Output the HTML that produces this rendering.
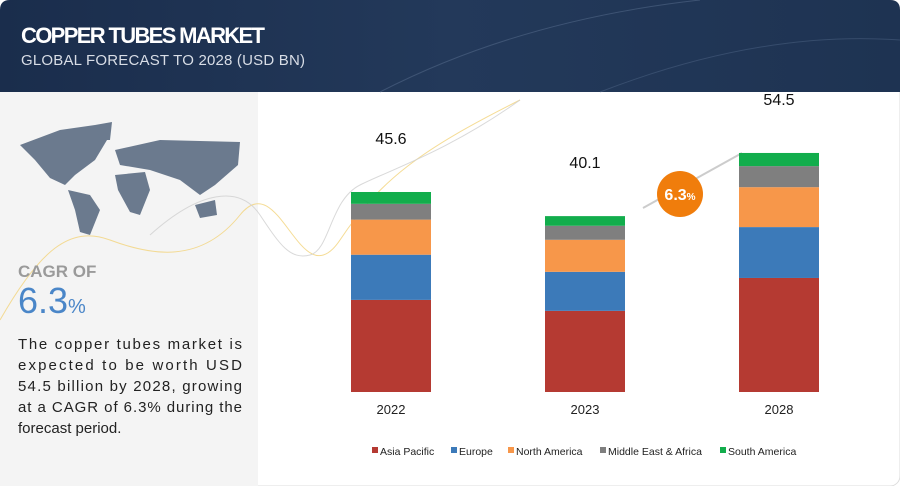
<!DOCTYPE html>
<html><head><meta charset="utf-8"><style>
body{margin:0;width:900px;height:486px;overflow:hidden;background:#fff;font-family:"Liberation Sans",sans-serif;}
#wrap{position:relative;width:900px;height:486px;}
</style></head><body>
<div id="wrap">
<svg width="900" height="486" viewBox="0 0 900 486">
<defs><linearGradient id="hg" x1="0" x2="1" y1="0" y2="0"><stop offset="0" stop-color="#1a2d4c"/><stop offset="0.5" stop-color="#23395a"/><stop offset="1" stop-color="#1e3352"/></linearGradient></defs>
<rect x="0" y="0" width="900" height="486" rx="10" fill="#fff" stroke="#ddd"/>
<path d="M10 0H890Q900 0 900 10V92H0V10Q0 0 10 0Z" fill="url(#hg)"/>
<path d="M380 92 Q520 20 700 0" stroke="#5a7090" stroke-width="1" fill="none" opacity="0.5"/>
<path d="M600 92 Q760 30 900 40" stroke="#5a7090" stroke-width="1" fill="none" opacity="0.4"/>
<text x="21" y="43" font-size="22" font-weight="bold" fill="#fff" textLength="244">COPPER TUBES MARKET</text>
<text x="21" y="65" font-size="15" fill="#d8dde6" textLength="284">GLOBAL FORECAST TO 2028 (USD BN)</text>
<rect x="0" y="92" width="258" height="394" fill="#f4f4f4"/>
<g fill="#6b7a8e">
<path d="M20 145 L60 130 L95 125 L110 135 L95 160 L75 175 L65 185 L50 178 L35 160Z"/>
<path d="M95 125 L112 122 L110 140 L100 140Z"/>
<path d="M68 190 L90 195 L100 210 L90 235 L80 232 L75 210Z"/>
<path d="M115 150 L160 140 L240 142 L238 165 L215 185 L200 195 L180 180 L150 170 L120 165Z"/>
<path d="M115 175 L145 172 L150 190 L140 215 L130 212 L118 190Z"/>
<path d="M195 205 L215 200 L217 215 L200 218Z"/>
</g>
<path d="M0 320 C40 250 70 225 110 240 S200 265 240 215 S300 300 340 240 S420 150 520 100" stroke="#f3d37a" fill="none" opacity="0.8"/>
<path d="M150 235 C200 190 240 185 260 215 S290 260 310 255 S330 200 360 185 S450 150 520 100" stroke="#d0d0d0" fill="none" opacity="0.8"/>
<text x="18" y="277" font-size="17" font-weight="bold" fill="#9a9a9a">CAGR OF</text>
<text x="18" y="313" font-size="36" fill="#4a86c8">6.3<tspan font-size="20">%</tspan></text>
<g font-size="15" fill="#222">
<text x="18" y="349" textLength="224">The copper tubes market is</text>
<text x="18" y="370" textLength="224">expected to be worth USD</text>
<text x="18" y="391" textLength="224">54.5 billion by 2028, growing</text>
<text x="18" y="412" textLength="224">at a CAGR of 6.3% during the</text>
<text x="18" y="433">forecast period.</text>
</g>
<line x1="643" y1="208" x2="742" y2="153" stroke="#ccc" stroke-width="2"/>
<circle cx="680" cy="194" r="23" fill="#f07d0c"/>
<text x="680" y="200" text-anchor="middle" font-size="16" font-weight="bold" fill="#fff">6.3<tspan font-size="10">%</tspan></text>
<g id="bars"></g>
<g id="legend"></g>
</svg>
</div>
<script>
const years=["2022","2023","2028"];
const totals=["45.6","40.1","54.5"];
const seriesNames=["Asia Pacific","Europe","North America","Middle East & Africa","South America"];
const colors=["#b53a32","#3c7ab9","#f7974a","#7f7f7f","#12ad4c"];
const asiaPacific=[21.0,18.5,26.0];
const europe=[10.3,8.9,11.6];
const northAmerica=[8.0,7.3,9.1];
const middleEastAfrica=[3.6,3.2,4.8];
const southAmerica=[2.7,2.2,3.0];
const series=[asiaPacific,europe,northAmerica,middleEastAfrica,southAmerica];
const base=392,scale=4.386,bw=80;
function xPos(i){return 351+i*194;}
function yLen(v){return v*scale;}
const NS="http://www.w3.org/2000/svg";
const g=document.getElementById('bars');
years.forEach((yr,i)=>{
  let y=base;
  series.forEach((s,k)=>{
    const h=yLen(s[i]);y-=h;
    const r=document.createElementNS(NS,'rect');
    r.setAttribute('x',xPos(i));r.setAttribute('y',y);r.setAttribute('width',bw);r.setAttribute('height',h);r.setAttribute('fill',colors[k]);
    
    
    g.appendChild(r);
  });
  const t=document.createElementNS(NS,'text');
  t.setAttribute('x',xPos(i)+bw/2);t.setAttribute('y',y-48);t.setAttribute('text-anchor','middle');t.setAttribute('font-size','16');t.setAttribute('fill','#111');
  t.textContent=totals[i];
  
  
  g.appendChild(t);
  const xl=document.createElementNS(NS,'text');
  xl.setAttribute('x',xPos(i)+bw/2);xl.setAttribute('y',414);xl.setAttribute('text-anchor','middle');xl.setAttribute('font-size','13');xl.setAttribute('fill','#222');
  xl.textContent=yr;
  
  
  g.appendChild(xl);
});
const lg=document.getElementById('legend');
const lx=[372,451,508,600,720];
seriesNames.forEach((n,k)=>{
  const r=document.createElementNS(NS,'rect');
  r.setAttribute('x',lx[k]);r.setAttribute('y',447);r.setAttribute('width',6);r.setAttribute('height',6);r.setAttribute('fill',colors[k]);
  
  
  lg.appendChild(r);
  const t=document.createElementNS(NS,'text');
  t.setAttribute('x',lx[k]+8);t.setAttribute('y',455);t.setAttribute('font-size','10.5');t.setAttribute('fill','#222');
  t.textContent=n;
  
  
  lg.appendChild(t);
});
</script>
</body></html>
